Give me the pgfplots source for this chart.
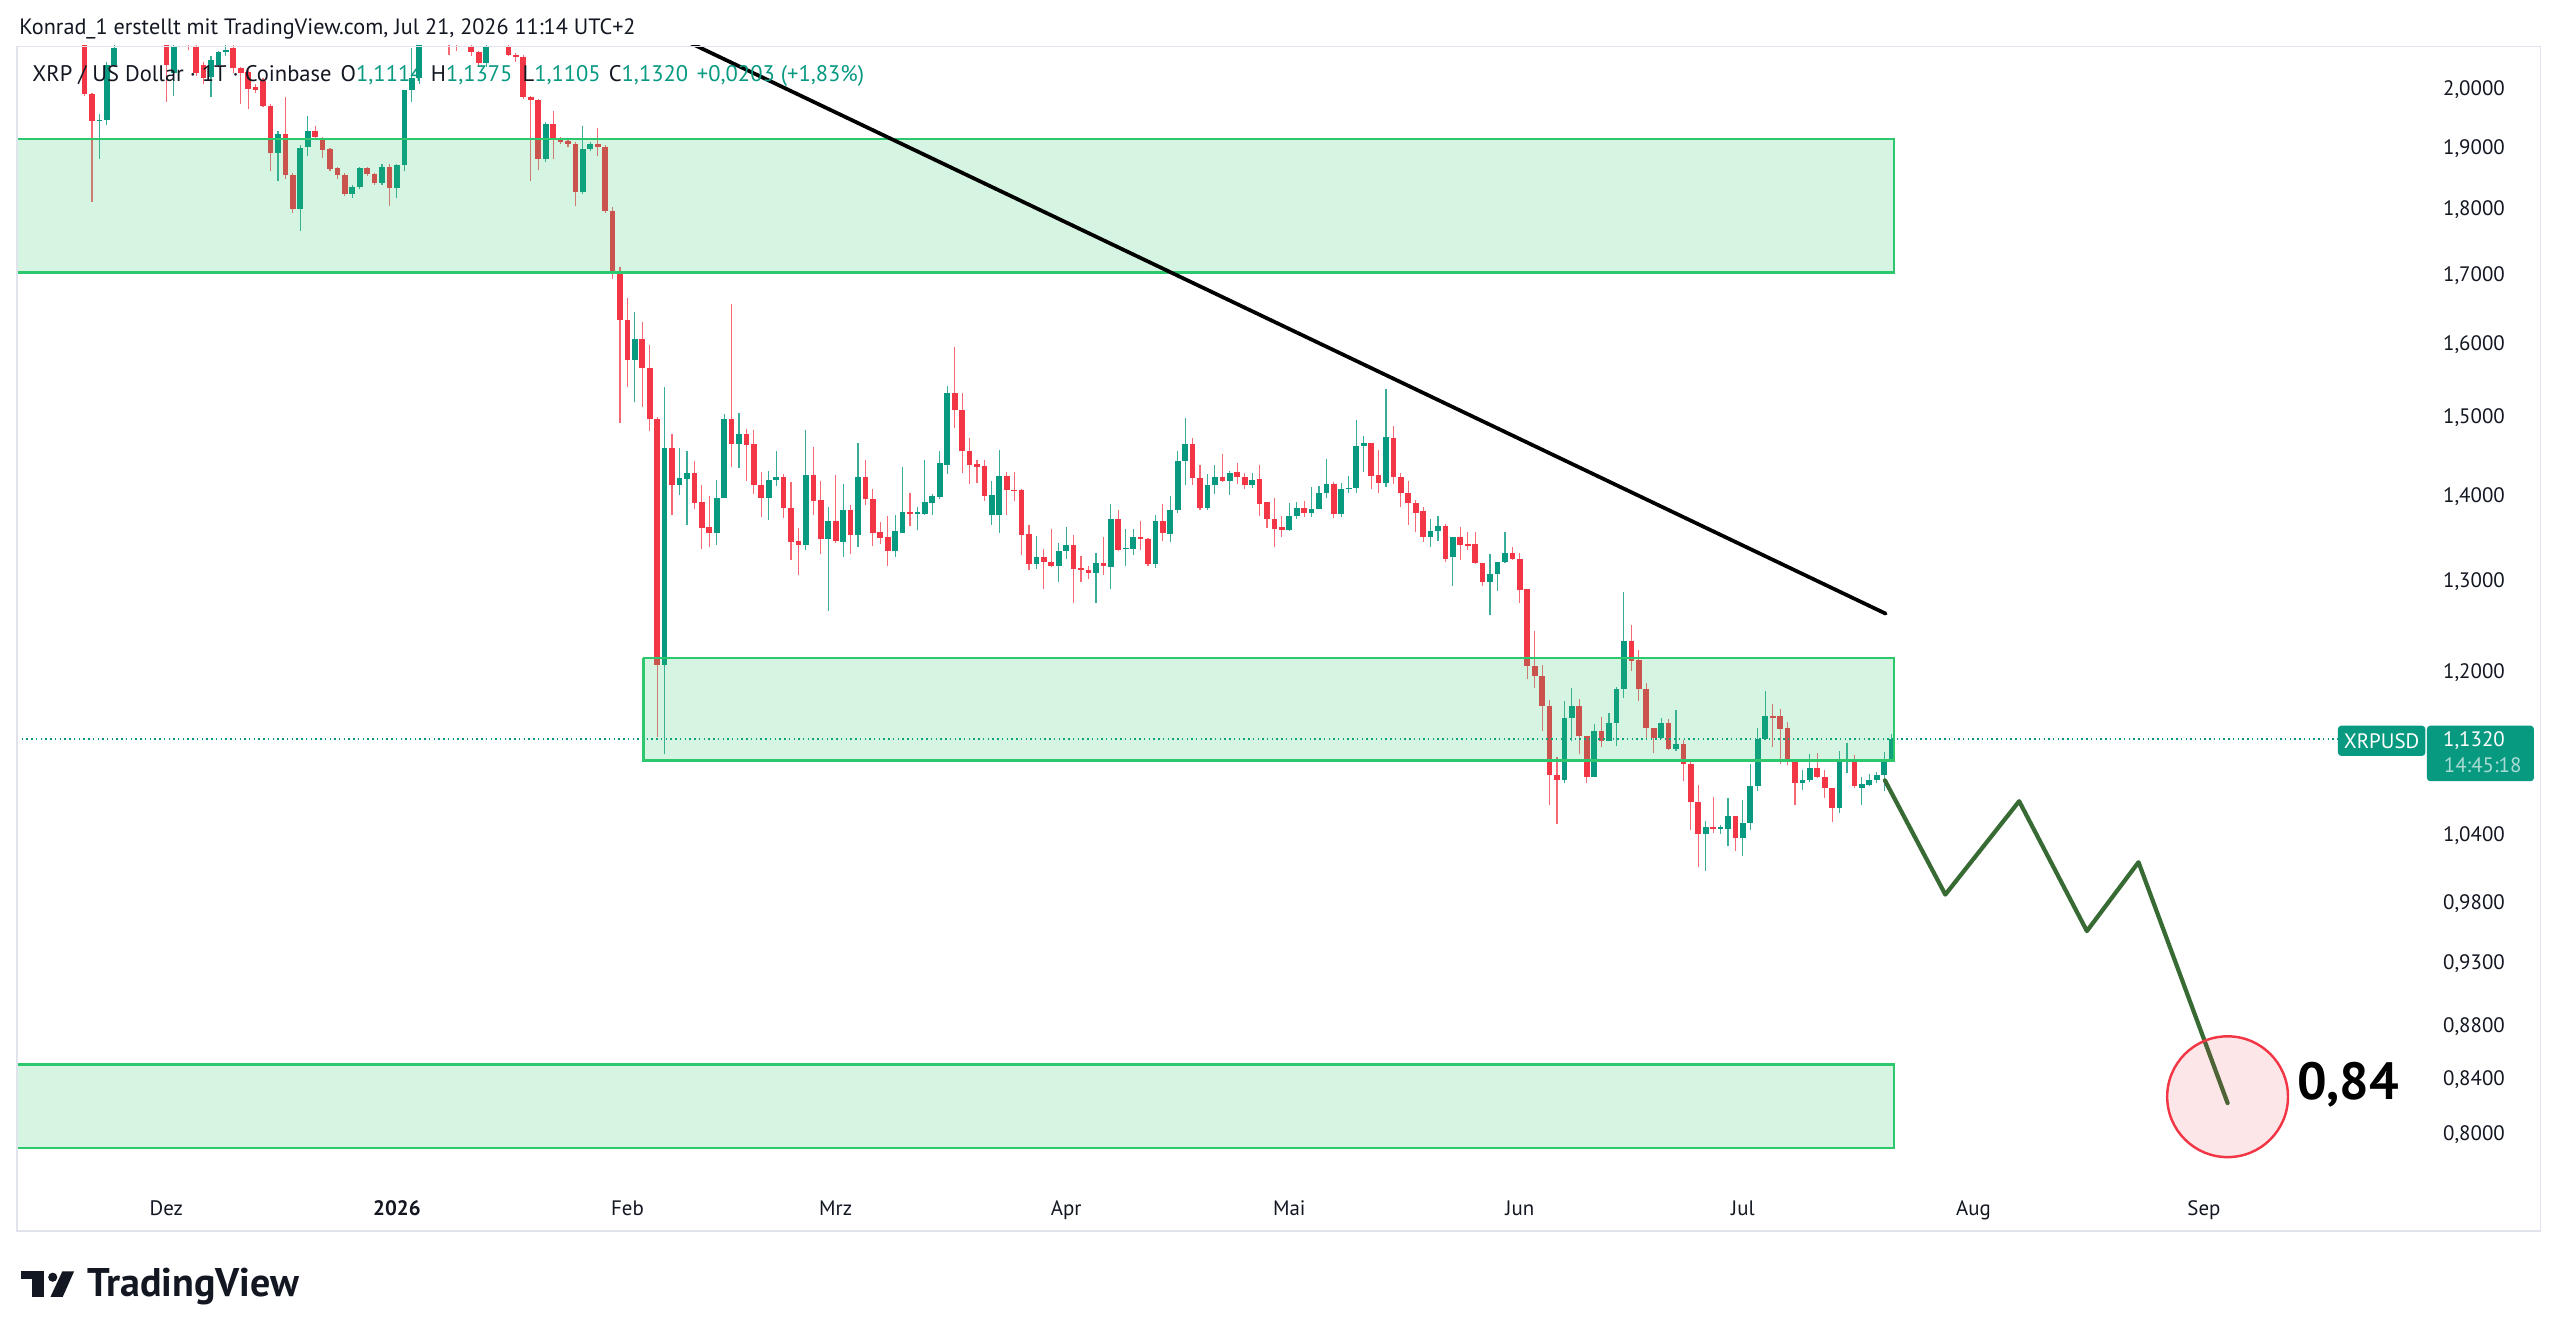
\documentclass[border=0pt]{standalone}
\usepackage{fontspec}
\setmainfont{PT Sans}
\usepackage{pgfplots}
\usepackage{pgfplotstable}
\pgfplotsset{compat=1.18}
\definecolor{tvgreen}{HTML}{089981}
\definecolor{tvred}{HTML}{F23645}
\colorlet{tvgreenw}{tvgreen!80!white}
\colorlet{tvredw}{tvred!75!white}
\definecolor{tvtext}{HTML}{131722}
\definecolor{zone}{RGB}{45,200,110}
\definecolor{proj}{HTML}{386B34}
\definecolor{framec}{HTML}{E0E3EB}

\pgfplotstableread{
d o h l c
-42 2.100 2.130 1.990 1.993
-41 1.993 1.995 1.813 1.946
-40 1.946 1.958 1.883 1.948
-39 1.948 2.050 1.940 2.044
-38 2.044 2.090 2.040 2.074
-37 2.100 2.180 2.090 2.150
-36 2.150 2.220 2.120 2.200
-35 2.200 2.260 2.160 2.180
-34 2.180 2.240 2.130 2.220
-33 2.220 2.250 2.150 2.170
-32 2.170 2.200 2.110 2.130
-31 2.130 2.150 1.979 2.044
-30 2.029 2.110 1.990 2.077
-29 2.090 2.160 2.085 2.130
-28 2.130 2.170 2.071 2.100
-27 2.077 2.100 2.025 2.029
-26 2.044 2.050 2.011 2.020
-25 2.023 2.060 1.988 2.053
-24 2.044 2.070 2.040 2.068
-23 2.068 2.080 2.060 2.071
-22 2.074 2.085 2.030 2.038
-21 2.038 2.040 1.976 2.029
-20 2.032 2.035 1.967 2.002
-19 2.005 2.010 1.995 2.000
-18 2.016 2.020 1.970 1.973
-17 1.973 1.975 1.862 1.893
-16 1.893 1.930 1.846 1.924
-15 1.925 1.987 1.849 1.857
-14 1.857 1.860 1.796 1.801
-13 1.801 1.905 1.767 1.901
-12 1.903 1.954 1.887 1.929
-11 1.929 1.938 1.915 1.919
-10 1.917 1.920 1.885 1.897
-9 1.899 1.900 1.862 1.866
-8 1.868 1.870 1.850 1.857
-7 1.857 1.860 1.822 1.826
-6 1.826 1.840 1.820 1.837
-5 1.837 1.870 1.833 1.867
-4 1.867 1.870 1.855 1.858
-3 1.858 1.860 1.840 1.844
-2 1.844 1.875 1.840 1.870
-1 1.870 1.875 1.806 1.836
0 1.836 1.875 1.820 1.872
1 1.872 2.000 1.862 2.000
2 2.000 2.074 1.979 2.020
3 2.020 2.150 2.010 2.120
4 2.120 2.220 2.100 2.200
5 2.200 2.300 2.150 2.250
6 2.250 2.280 2.120 2.150
7 2.150 2.180 2.062 2.100
8 2.130 2.160 2.070 2.100
9 2.100 2.160 2.085 2.140
10 2.077 2.100 2.060 2.068
11 2.068 2.070 2.041 2.047
12 2.047 2.100 2.040 2.077
13 2.090 2.150 2.085 2.120
14 2.120 2.140 2.085 2.090
15 2.077 2.100 2.060 2.062
16 2.062 2.065 2.050 2.058
17 2.059 2.062 1.985 1.987
18 1.987 1.990 1.846 1.982
19 1.982 1.985 1.865 1.882
20 1.882 1.945 1.878 1.941
21 1.941 1.964 1.882 1.916
22 1.917 1.920 1.908 1.911
23 1.913 1.915 1.903 1.907
24 1.907 1.910 1.806 1.828
25 1.828 1.938 1.825 1.899
26 1.899 1.910 1.895 1.908
27 1.908 1.934 1.887 1.903
28 1.903 1.905 1.795 1.799
29 1.799 1.805 1.695 1.705
30 1.705 1.712 1.493 1.634
31 1.634 1.667 1.542 1.579
32 1.579 1.646 1.521 1.608
33 1.607 1.632 1.515 1.567
34 1.567 1.599 1.483 1.499
35 1.499 1.502 1.134 1.208
36 1.208 1.541 1.117 1.461
37 1.461 1.479 1.378 1.415
38 1.415 1.461 1.402 1.423
39 1.422 1.457 1.366 1.429
40 1.429 1.445 1.385 1.392
41 1.393 1.414 1.337 1.362
42 1.3635 1.401 1.340 1.3564
43 1.356 1.421 1.342 1.399
44 1.399 1.505 1.398 1.499
45 1.499 1.658 1.437 1.466
46 1.466 1.507 1.436 1.479
47 1.479 1.486 1.420 1.465
48 1.466 1.485 1.403 1.414
49 1.415 1.431 1.375 1.399
50 1.399 1.432 1.372 1.421
51 1.421 1.457 1.413 1.424
52 1.424 1.428 1.374 1.386
53 1.386 1.418 1.325 1.3455
54 1.3463 1.362 1.307 1.3424
55 1.342 1.485 1.336 1.427
56 1.427 1.462 1.378 1.395
57 1.396 1.419 1.332 1.349
58 1.349 1.387 1.267 1.370
59 1.370 1.427 1.344 1.3463
60 1.346 1.416 1.3285 1.384
61 1.384 1.390 1.332 1.354
62 1.354 1.467 1.340 1.425
63 1.425 1.446 1.390 1.397
64 1.397 1.409 1.341 1.3564
65 1.3571 1.369 1.3428 1.3506
66 1.352 1.377 1.317 1.3347
67 1.3347 1.378 1.3285 1.358
68 1.356 1.437 1.356 1.381
69 1.381 1.405 1.365 1.379
70 1.379 1.387 1.3595 1.381
71 1.379 1.446 1.378 1.393
72 1.392 1.403 1.378 1.401
73 1.400 1.4576 1.397 1.442
74 1.440 1.543 1.4285 1.534
75 1.534 1.597 1.4865 1.510
76 1.510 1.533 1.429 1.457
77 1.4576 1.4746 1.4155 1.440
78 1.4409 1.446 1.4175 1.4368
79 1.4376 1.446 1.3948 1.4009
80 1.3776 1.4195 1.3662 1.4017
81 1.3776 1.459 1.3564 1.4253
82 1.4253 1.4306 1.3772 1.4081
83 1.4089 1.4306 1.3952 1.4069
84 1.4081 1.4101 1.3301 1.3541
85 1.3549 1.3662 1.3133 1.3194
86 1.3194 1.3526 1.3141 1.3274
87 1.3274 1.3378 1.2916 1.3217
88 1.3225 1.3615 1.3165 1.3171
89 1.3171 1.3440 1.2990 1.3355
90 1.3347 1.3631 1.3255 1.3424
91 1.3424 1.3537 1.2760 1.3141
92 1.3156 1.3293 1.2990 1.3129
93 1.3133 1.3179 1.3027 1.3095
94 1.3095 1.3332 1.2749 1.3210
95 1.3210 1.3518 1.3073 1.3171
96 1.3167 1.3912 1.2909 1.3729
97 1.3729 1.3840 1.3347 1.3362
98 1.3370 1.3611 1.3179 1.3385
99 1.3378 1.3615 1.3301 1.3518
100 1.3518 1.3702 1.3358 1.3487
101 1.3494 1.3502 1.3171 1.3194
102 1.3194 1.3780 1.3156 1.3702
103 1.3702 1.3908 1.3467 1.3564
104 1.355 1.401 1.345 1.384
105 1.384 1.457 1.380 1.444
106 1.444 1.500 1.414 1.466
107 1.466 1.474 1.415 1.423
108 1.423 1.439 1.384 1.386
109 1.386 1.4285 1.384 1.415
110 1.415 1.439 1.403 1.425
111 1.425 1.453 1.418 1.420
112 1.420 1.432 1.402 1.430
113 1.431 1.442 1.416 1.424
114 1.425 1.430 1.410 1.415
115 1.415 1.429 1.411 1.421
116 1.422 1.439 1.376 1.391
117 1.393 1.393 1.362 1.3725
118 1.373 1.399 1.340 1.361
119 1.363 1.376 1.352 1.360
120 1.360 1.392 1.359 1.377
121 1.376 1.393 1.373 1.386
122 1.386 1.395 1.375 1.380
123 1.380 1.412 1.375 1.385
124 1.385 1.413 1.385 1.404
125 1.404 1.447 1.399 1.416
126 1.416 1.418 1.374 1.379
127 1.379 1.417 1.375 1.409
128 1.409 1.426 1.404 1.411
129 1.411 1.497 1.404 1.464
130 1.464 1.477 1.431 1.467
131 1.467 1.468 1.410 1.426
132 1.427 1.459 1.404 1.417
133 1.417 1.538 1.412 1.475
134 1.474 1.490 1.416 1.424
135 1.424 1.430 1.388 1.404
136 1.404 1.419 1.366 1.392
137 1.392 1.396 1.357 1.380
138 1.382 1.388 1.345 1.352
139 1.352 1.3725 1.340 1.359
140 1.359 1.377 1.347 1.365
141 1.365 1.367 1.3225 1.326
142 1.3275 1.351 1.295 1.351
143 1.351 1.363 1.324 1.342
144 1.343 1.357 1.336 1.341
145 1.343 1.357 1.320 1.321
146 1.321 1.321 1.295 1.299
147 1.299 1.331 1.262 1.308
148 1.308 1.322 1.289 1.322
149 1.322 1.357 1.321 1.333
150 1.333 1.340 1.324 1.326
151 1.326 1.333 1.275 1.290
152 1.291 1.291 1.193 1.207
153 1.207 1.244 1.184 1.196
154 1.196 1.208 1.140 1.165
155 1.165 1.171 1.0686 1.0965
156 1.097 1.114 1.051 1.092
157 1.092 1.170 1.089 1.153
158 1.153 1.184 1.130 1.165
159 1.165 1.173 1.117 1.135
160 1.135 1.135 1.089 1.095
161 1.095 1.147 1.095 1.140
162 1.140 1.154 1.124 1.130
163 1.130 1.158 1.130 1.148
164 1.148 1.185 1.125 1.183
165 1.183 1.288 1.174 1.234
166 1.234 1.251 1.202 1.2126
167 1.213 1.2235 1.170 1.183
168 1.183 1.189 1.131 1.143
169 1.143 1.143 1.118 1.133
170 1.133 1.153 1.132 1.148
171 1.148 1.152 1.1215 1.122
172 1.122 1.1615 1.1205 1.127
173 1.127 1.131 1.0909 1.1077
174 1.108 1.111 1.0456 1.0716
175 1.0716 1.087 1.0121 1.042
176 1.042 1.054 1.0086 1.0477
177 1.048 1.076 1.043 1.046
178 1.046 1.050 1.0417 1.048
179 1.0465 1.075 1.0305 1.058
180 1.058 1.058 1.026 1.038
181 1.038 1.073 1.022 1.052
182 1.052 1.108 1.045 1.0865
183 1.0865 1.143 1.082 1.1325
184 1.1325 1.181 1.132 1.155
185 1.155 1.167 1.124 1.153
186 1.155 1.162 1.108 1.142
187 1.143 1.149 1.107 1.111
188 1.111 1.111 1.0685 1.089
189 1.089 1.102 1.083 1.092
190 1.092 1.117 1.090 1.104
191 1.104 1.118 1.094 1.095
192 1.095 1.102 1.075 1.085
193 1.085 1.085 1.053 1.066
194 1.066 1.120 1.061 1.111
195 1.110 1.128 1.0985 1.112
196 1.111 1.116 1.085 1.086
197 1.085 1.095 1.0685 1.088
198 1.087 1.0975 1.086 1.0925
199 1.092 1.100 1.089 1.0965
200 1.0965 1.119 1.082 1.111
201 1.1114 1.1375 1.1105 1.1320
}\ohlc

\begin{document}
\begin{tikzpicture}
\useasboundingbox (0,0) rectangle (784pt,409.75pt);
\fill[white] (0,0) rectangle (784pt,409.75pt);
\pgfplotstablegetrowsof{\ohlc}
\pgfmathtruncatemacro{\lastrow}{\pgfplotsretval-1}
\begin{axis}[
  at={(5pt,46.25pt)}, anchor=south west,
  scale only axis, width=738.5pt, height=349.5pt,
  xmin=-51.18, xmax=273.10,
  ymode=log, ymin=0.7646, ymax=2.0788,
  axis line style={draw=none},
  tick style={draw=none}, major tick length=0pt, minor tick num=0,
  xtick={-31,0,31,59,90,120,151,181,212,243},
  xticklabels={Dez,\textbf{2026},Feb,Mrz,Apr,Mai,Jun,Jul,Aug,Sep},
  ytick={0.8,0.84,0.88,0.93,0.98,1.04,1.2,1.3,1.4,1.5,1.6,1.7,1.8,1.9,2.0},
  yticklabels={{0,8000},{0,8400},{0,8800},{0,9300},{0,9800},{1,0400},{1,2000},{1,3000},{1,4000},{1,5000},{1,6000},{1,7000},{1,8000},{1,9000},{2,0000}},
  yticklabel pos=right,
  /pgf/number format/assume math mode=true,
  xticklabel style={font=\fontsize{6.4}{7}\selectfont, text=tvtext, anchor=base, inner sep=0pt, yshift=-8.8pt},
  yticklabel style={font=\fontsize{6.4}{7}\selectfont, text=tvtext, anchor=west, inner sep=0pt, xshift=4.5pt},
]
% candles
\pgfplotsforeachungrouped \i in {0,...,\lastrow}{%
  \pgfplotstablegetelem{\i}{d}\of\ohlc\let\candD\pgfplotsretval
  \pgfplotstablegetelem{\i}{o}\of\ohlc\let\candO\pgfplotsretval
  \pgfplotstablegetelem{\i}{h}\of\ohlc\let\candH\pgfplotsretval
  \pgfplotstablegetelem{\i}{l}\of\ohlc\let\candL\pgfplotsretval
  \pgfplotstablegetelem{\i}{c}\of\ohlc\let\candC\pgfplotsretval
  \ifdim\candC pt<\candO pt \def\bcol{tvred}\def\wcol{tvredw}\else\def\bcol{tvgreen}\def\wcol{tvgreenw}\fi
  \edef\candle{%
    \noexpand\addplot[draw=\wcol, line width=0.35pt, forget plot] coordinates {(\candD,\candL) (\candD,\candH)};%
    \noexpand\addplot[draw=\bcol, line width=1.75pt, forget plot] coordinates {(\candD,\candO) (\candD,\candC)};%
  }\candle
}
% current price line
\addplot[tvgreen, line width=0.45pt, dash pattern=on 0.45pt off 1pt, forget plot] coordinates {(-60,1.132) (280,1.132)};
% zones
\addplot[draw=zone, line width=0.75pt, fill=zone, fill opacity=0.2, draw opacity=1, forget plot] coordinates {(-60,1.916) (201.31,1.916) (201.31,1.704) (-60,1.704) (-60,1.916)};
\addplot[draw=zone, line width=0.75pt, fill=zone, fill opacity=0.2, draw opacity=1, forget plot] coordinates {(33.13,1.2157) (201.31,1.2157) (201.31,1.111) (33.13,1.111) (33.13,1.2157)};
\addplot[draw=zone, line width=0.75pt, fill=zone, fill opacity=0.2, draw opacity=1, forget plot] coordinates {(-60,0.851) (201.31,0.851) (201.31,0.791) (-60,0.791) (-60,0.851)};
% trend line
\addplot[black, line width=1.15pt, line cap=round, forget plot] coordinates {(30,2.146) (200.2,1.2636)};
% target circle
\addplot[only marks, mark=*, mark size=18.5pt, mark options={draw=tvred, fill=tvred, fill opacity=0.12, draw opacity=1, line width=0.75pt}, forget plot] coordinates {(246.18,0.8274)};
% projection
\addplot[proj, line width=1.3pt, line join=round, line cap=round, forget plot] coordinates {(200.10,1.0918) (208.22,0.9878) (218.15,1.0720) (227.26,0.9567) (234.20,1.0162) (246.18,0.8228)};
\end{axis}
\begin{scope}[yshift=409.75pt, x=0.5pt, y=-0.5pt]
\draw[framec, line width=0.5pt] (10.5,28.5) rectangle (1556,754);
\node[anchor=base west, inner sep=0pt, font=\fontsize{6.8}{8}\selectfont, text=tvtext] at (11.5,21) {Konrad\_1 erstellt mit TradingView.com, Jul 21, 2026 11:14 UTC+2};
\begin{scope}[every node/.style={anchor=base west, inner sep=0pt, font=\fontsize{6.9}{8}\selectfont, text=tvtext}]
\node at (19.5,50) {XRP / US Dollar · 1T · Coinbase};
\node at (208.3,50) {O\textcolor{tvgreen}{1,1114}};
\node at (263.5,50) {H\textcolor{tvgreen}{1,1375}};
\node at (319.7,50) {L\textcolor{tvgreen}{1,1105}};
\node at (372.5,50) {C\textcolor{tvgreen}{1,1320}};
\node at (426.5,50) {\textcolor{tvgreen}{+0,0203 (+1,83\%)}};
\end{scope}
\fill[tvgreen, rounded corners=1] (1432,444.5) rectangle (1485.5,463);
\node[inner sep=0pt, text=white, font=\fontsize{6.4}{7}\selectfont] at (1458.7,453.8) {XRPUSD};
\fill[tvgreen, rounded corners=1] (1486.5,444.5) rectangle (1552,478.5);
\node[anchor=west, inner sep=0pt, text=white, font=\fontsize{6.4}{7}\selectfont] at (1496,453.8) {1,1320};
\node[anchor=west, inner sep=0pt, text=white!65!tvgreen, font=\fontsize{6.4}{7}\selectfont] at (1496.5,468.7) {14:45:18};
\node[anchor=base west, inner sep=0pt, text=black, font=\bfseries\fontsize{16}{18}\selectfont] at (1406.6,673.6) {0,84};
% logo
\fill[tvtext] (13.1,778.7) rectangle (26.8,783.6);
\fill[tvtext] (19.9,778.7) rectangle (26.8,794.4);
\fill[tvtext] (32.3,782.3) circle (2.8);
\fill[tvtext] (38.2,778.7) -- (45.4,778.7) -- (38.4,794.4) -- (30.9,794.4) -- cycle;
\node[anchor=base west, inner sep=0pt, text=tvtext, font=\bfseries\fontsize{12.25}{14}\selectfont] at (53.3,794.4) {TradingView};
\end{scope}
\end{tikzpicture}
\end{document}
